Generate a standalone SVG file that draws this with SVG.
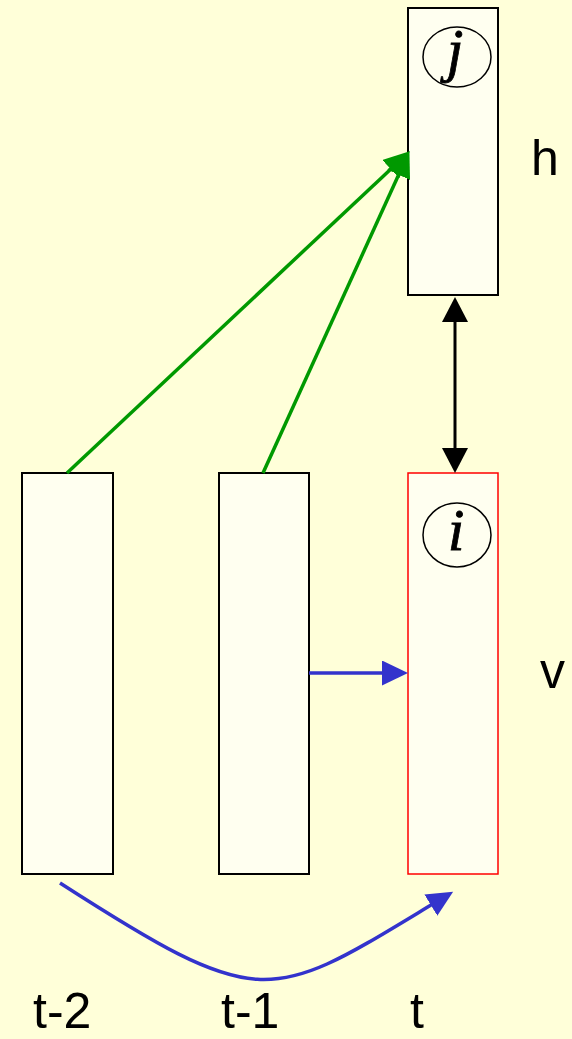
<svg xmlns="http://www.w3.org/2000/svg" width="572" height="1039" viewBox="0 0 572 1039">
<style>
.box{fill:#FFFFF0;stroke:#000;stroke-width:2}
.red{fill:#FFFFF0;stroke:#FF0000;stroke-width:1.5}
.circ{fill:none;stroke:#000;stroke-width:1.5}
.var{font-family:"Liberation Serif","Times New Roman",serif;font-style:italic;font-size:60px;fill:#000;stroke:#000;stroke-width:0.8;text-anchor:middle}
.lbl{font-family:"Liberation Sans",Arial,sans-serif;font-size:50px;fill:#000}
.green{stroke:#009900;stroke-width:3.5;fill:none}
.blue{stroke:#3333CC;stroke-width:3.5;fill:none}
.black{stroke:#000;stroke-width:3;fill:none}
</style>
<defs>
<marker id="ag" markerUnits="userSpaceOnUse" markerWidth="27" markerHeight="26" refX="5" refY="12.5" orient="auto"><path d="M0,0 L26,12.5 L0,25 z" fill="#009900"/></marker>
<marker id="ab" markerUnits="userSpaceOnUse" markerWidth="27" markerHeight="26" refX="6" refY="12.5" orient="auto"><path d="M0,0 L26,12.5 L0,25 z" fill="#3333CC"/></marker>
<marker id="ak" markerUnits="userSpaceOnUse" markerWidth="27" markerHeight="27" refX="5" refY="13" orient="auto-start-reverse"><path d="M0,0 L25,13 L0,26 z" fill="#000"/></marker>
</defs>
<rect width="572" height="1039" fill="#FFFFD9"/>
<g id="node-h">
<rect class="box" x="408" y="8" width="90" height="287"/>
<ellipse class="circ" cx="457" cy="57" rx="34" ry="30"/>
<text class="var" x="455" y="70">j</text>
</g>
<g id="node-v-t">
<rect class="red" x="408" y="473" width="90" height="401"/>
<ellipse class="circ" cx="457" cy="535" rx="34" ry="32"/>
<text class="var" x="456" y="550">i</text>
</g>
<g id="node-v-t1">
<rect class="box" x="219" y="473" width="90" height="401"/>
</g>
<g id="node-v-t2">
<rect class="box" x="22" y="473" width="91" height="401"/>
</g>
<g id="labels">
<text class="lbl" x="531" y="175">h</text>
<text class="lbl" x="540" y="688">v</text>
<text class="lbl" x="33" y="1028">t-2</text>
<text class="lbl" x="221" y="1028">t-1</text>
<text class="lbl" x="410" y="1028">t</text>
</g>
<g id="connectors">
<line class="green" x1="67" y1="473" x2="394.4" y2="165.7" marker-end="url(#ag)"/>
<line class="green" x1="263" y1="473" x2="400.7" y2="170.2" marker-end="url(#ag)"/>
<line class="black" x1="455" y1="317" x2="455" y2="453" marker-start="url(#ak)" marker-end="url(#ak)"/>
<line class="blue" x1="309" y1="673" x2="388" y2="673" marker-end="url(#ab)"/>
<path class="blue" d="M60,883 C265,1015 270,1002 436,902" marker-end="url(#ab)"/>
</g>
</svg>
